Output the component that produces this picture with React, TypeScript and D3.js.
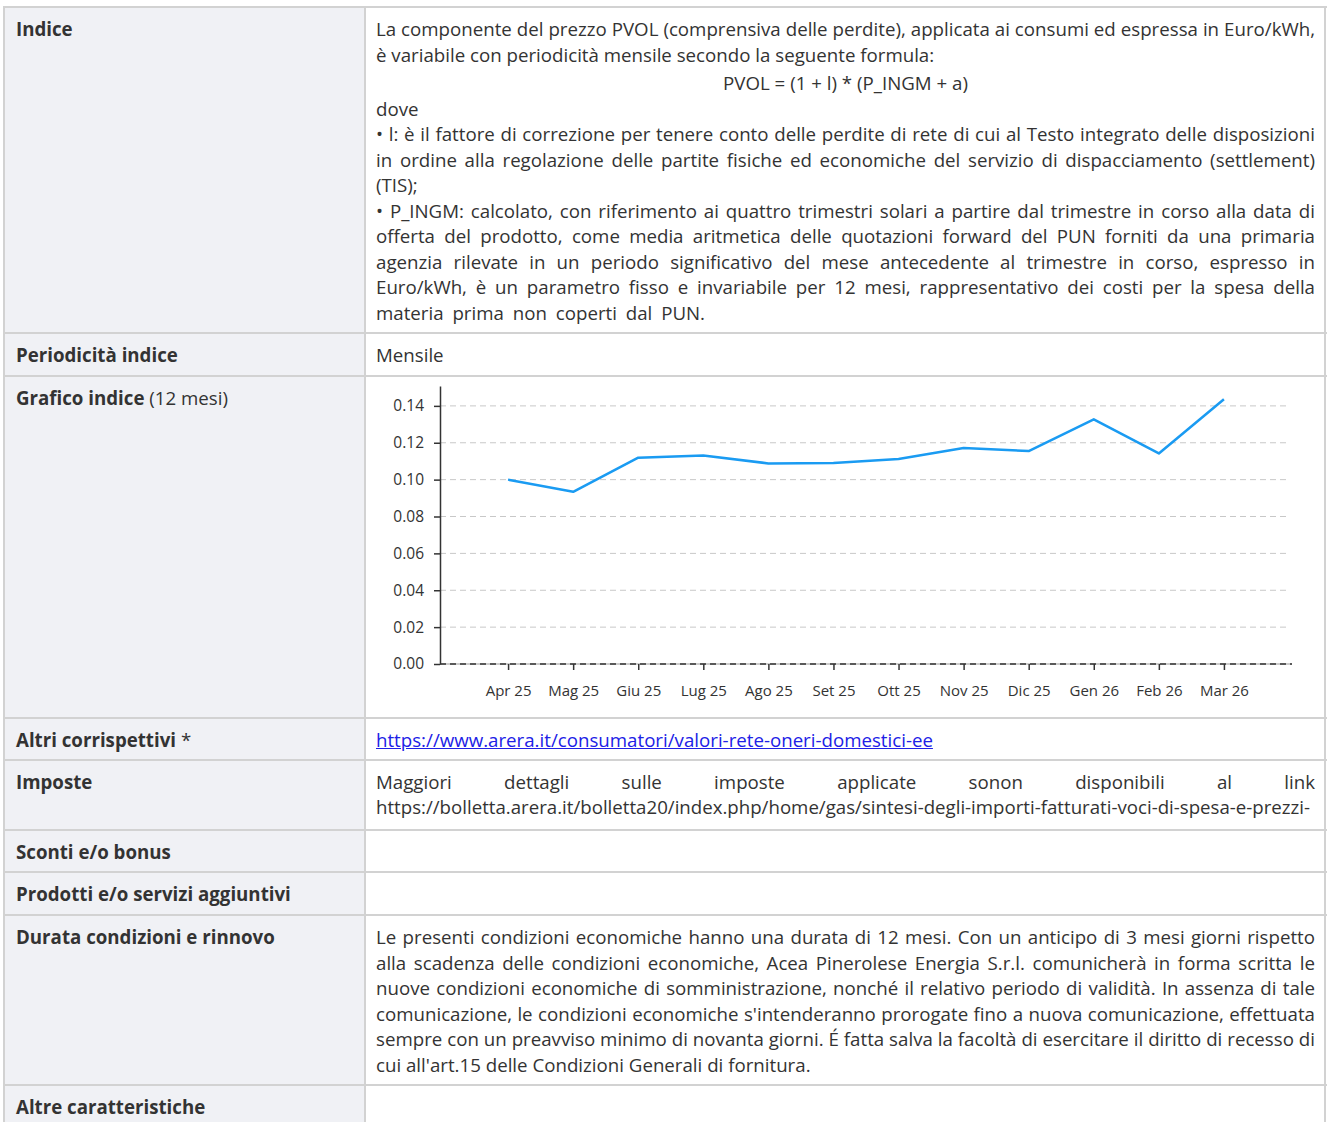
import { useEffect, useRef } from "react"
import * as d3 from "d3"

// monthly PVOL index values (Euro/kWh)
const months = [
  "Apr 25", "Mag 25", "Giu 25", "Lug 25", "Ago 25", "Set 25",
  "Ott 25", "Nov 25", "Dic 25", "Gen 26", "Feb 26", "Mar 26",
]
const pvolValues = [
  0.1, 0.0934, 0.1119, 0.1131, 0.1088, 0.109,
  0.1112, 0.1171, 0.1155, 0.1327, 0.1142, 0.1436,
]
const yTicks = [0, 0.02, 0.04, 0.06, 0.08, 0.1, 0.12, 0.14]

const FONT = '"Open Sans", "Noto Sans", sans-serif'
const TEXT = "#333"
const BORDER = "#d2d2d2"
const FONT_SIZE = 18.7

type Line = { text: string; align: "left" | "center" | "justify"; spacing?: number }

const indiceLines: Line[] = [
  { text: "La componente del prezzo PVOL (comprensiva delle perdite), applicata ai consumi ed espressa in Euro/kWh,", align: "justify" },
  { text: "è variabile con periodicità mensile secondo la seguente formula:", align: "left" },
  { text: "PVOL = (1 + l) * (P_INGM + a)", align: "center" },
  { text: "dove", align: "left" },
  { text: "• l: è il fattore di correzione per tenere conto delle perdite di rete di cui al Testo integrato delle disposizioni", align: "justify" },
  { text: "in ordine alla regolazione delle partite fisiche ed economiche del servizio di dispacciamento (settlement)", align: "justify" },
  { text: "(TIS);", align: "left" },
  { text: "• P_INGM: calcolato, con riferimento ai quattro trimestri solari a partire dal trimestre in corso alla data di", align: "justify" },
  { text: "offerta del prodotto, come media aritmetica delle quotazioni forward del PUN forniti da una primaria", align: "justify" },
  { text: "agenzia rilevate in un periodo significativo del mese antecedente al trimestre in corso, espresso in", align: "justify" },
  { text: "Euro/kWh, è un parametro fisso e invariabile per 12 mesi, rappresentativo dei costi per la spesa della", align: "justify" },
  { text: "materia prima non coperti dal PUN.", align: "left", spacing: 4 },
]

const durataLines: Line[] = [
  { text: "Le presenti condizioni economiche hanno una durata di 12 mesi. Con un anticipo di 3 mesi giorni rispetto", align: "justify" },
  { text: "alla scadenza delle condizioni economiche, Acea Pinerolese Energia S.r.l. comunicherà in forma scritta le", align: "justify" },
  { text: "nuove condizioni economiche di somministrazione, nonché il relativo periodo di validità. In assenza di tale", align: "justify" },
  { text: "comunicazione, le condizioni economiche s'intenderanno prorogate fino a nuova comunicazione, effettuata", align: "justify" },
  { text: "sempre con un preavviso minimo di novanta giorni. É fatta salva la facoltà di esercitare il diritto di recesso di", align: "justify" },
  { text: "cui all'art.15 delle Condizioni Generali di fornitura.", align: "left" },
]

const rowTops = [7, 333, 376, 718, 760, 830, 872, 915, 1085]
const pageBottom = 1140
const colLeft = 4
const colMid = 365
const colRight = 1325

function TextLines({ lines }: { lines: Line[] }) {
  return (
    <>
      {lines.map((l, i) => (
        <div
          key={i}
          style={{
            height: l.align === "center" ? 28.5 : 25.5,
            lineHeight: l.align === "center" ? "31px" : "25.5px",
            whiteSpace: "nowrap",
            textAlign: l.align,
            textAlignLast: l.align === "justify" ? "justify" : undefined,
            wordSpacing: l.spacing,
          }}
        >
          {l.text}
        </div>
      ))}
    </>
  )
}

function PvolChart() {
  const svgRef = useRef<SVGSVGElement | null>(null)

  useEffect(() => {
    if (!svgRef.current) return
    const svg = d3.select(svgRef.current)
    svg.selectAll("*").remove()

    const axisX = 74
    const axisEnd = 926
    const gridEnd = 922
    const top = 10
    const bottom = 288

    const x = d3.scalePoint<string>().domain(months).range([77, 923]).padding(1)
    const y = d3
      .scaleLinear()
      .domain([0, (d3.max(pvolValues) ?? 0) * 1.05])
      .range([bottom, top])

    // x axis line
    svg
      .append("line")
      .attr("x1", axisX)
      .attr("x2", axisEnd)
      .attr("y1", bottom)
      .attr("y2", bottom)
      .attr("stroke", "#bbb")
      .attr("stroke-width", 1.5)

    svg
      .append("g")
      .selectAll("line")
      .data(yTicks)
      .join("line")
      .attr("x1", axisX)
      .attr("x2", (d) => (d === 0 ? axisEnd : gridEnd))
      .attr("y1", (d) => y(d))
      .attr("y2", (d) => y(d))
      .attr("stroke", (d) => (d === 0 ? "#333" : "#c8c8c8"))
      .attr("stroke-width", (d) => (d === 0 ? 1.5 : 1))
      .attr("stroke-dasharray", "6 4")

    svg
      .append("g")
      .attr("transform", `translate(0, ${bottom})`)
      .call(d3.axisBottom(x).tickSize(6).tickSizeOuter(0).tickPadding(15))
      .call((g) => g.select(".domain").remove())
      .call((g) => g.selectAll("line").attr("stroke", "#333").attr("stroke-width", 1.5))
      .call((g) =>
        g.selectAll("text").attr("fill", TEXT).attr("font-size", 15).attr("font-family", FONT),
      )

    svg
      .append("g")
      .attr("transform", `translate(${axisX}, 0)`)
      .call(
        d3
          .axisLeft(y)
          .tickValues(yTicks)
          .tickFormat((d) => (+d).toFixed(2))
          .tickSize(6)
          .tickSizeOuter(0)
          .tickPadding(10),
      )
      .call((g) => g.select(".domain").attr("stroke", "#333").attr("stroke-width", 1.5))
      .call((g) => g.selectAll("line").attr("stroke", "#333").attr("stroke-width", 1.5))
      .call((g) =>
        g.selectAll("text").attr("fill", TEXT).attr("font-size", 15.5).attr("font-family", FONT),
      )

    const line = d3
      .line<number>()
      .x((_, i) => x(months[i]) ?? 0)
      .y((d) => y(d))

    svg
      .append("path")
      .datum(pvolValues)
      .attr("d", line)
      .attr("fill", "none")
      .attr("stroke", "#1a9bf2")
      .attr("stroke-width", 2.5)
      .attr("stroke-linejoin", "round")
  }, [])

  return <svg ref={svgRef} width={960} height={342} style={{ display: "block" }} />
}

export default function App() {
  const labels = [
    <b>Indice</b>,
    <b>Periodicità indice</b>,
    <>
      <b>Grafico indice</b> (12 mesi)
    </>,
    <>
      <b>Altri corrispettivi</b> *
    </>,
    <b>Imposte</b>,
    <b>Sconti e/o bonus</b>,
    <b>Prodotti e/o servizi aggiuntivi</b>,
    <b>Durata condizioni e rinnovo</b>,
    <b>Altre caratteristiche</b>,
  ]

  const contents = [
    <TextLines lines={indiceLines} />,
    <div style={{ lineHeight: "25.5px" }}>Mensile</div>,
    null,
    <div style={{ lineHeight: "25.5px" }}>
      <a href="#" style={{ color: "#2020e6" }}>
        https://www.arera.it/consumatori/valori-rete-oneri-domestici-ee
      </a>
    </div>,
    <>
      <TextLines
        lines={[{ text: "Maggiori dettagli sulle imposte applicate sonon disponibili al link", align: "justify" }]}
      />
      <svg width={940} height={25.5} style={{ display: "block" }}>
        <text
          x={0}
          y={19}
          fontSize={FONT_SIZE}
          fontFamily={FONT}
          fill={TEXT}
          textLength={934}
          lengthAdjust="spacingAndGlyphs"
        >
          https://bolletta.arera.it/bolletta20/index.php/home/gas/sintesi-degli-importi-fatturati-voci-di-spesa-e-prezzi-
        </text>
      </svg>
    </>,
    null,
    null,
    <TextLines lines={durataLines} />,
    null,
  ]

  return (
    <div
      style={{
        position: "absolute",
        left: 0,
        top: 0,
        width: 1329,
        height: 1122,
        overflow: "hidden",
        background: "#fff",
        fontFamily: FONT,
        fontSize: FONT_SIZE,
        color: TEXT,
      }}
    >
      {/* label column background */}
      <div
        style={{
          position: "absolute",
          left: colLeft,
          top: rowTops[0],
          width: colMid - colLeft,
          height: pageBottom - rowTops[0],
          background: "#f0f1f5",
        }}
      />
      {rowTops.map((t, i) => (
        <div key={"h" + i} style={{ position: "absolute", left: colLeft, top: t - 1, width: colRight - colLeft + 2, height: 2, background: BORDER }} />
      ))}
      {[colLeft, colMid, colRight].map((c, i) => (
        <div key={"v" + i} style={{ position: "absolute", left: c - 1, top: rowTops[0] - 1, width: 2, height: pageBottom, background: BORDER }} />
      ))}
      {rowTops.map((t, i) => (
        <div key={"l" + i} style={{ position: "absolute", left: 16, top: t + 9, lineHeight: "25.5px", whiteSpace: "nowrap" }}>
          {labels[i]}
        </div>
      ))}
      {rowTops.map((t, i) =>
        contents[i] ? (
          <div key={"c" + i} style={{ position: "absolute", left: 376, top: t + 9, width: 939 }}>
            {contents[i]}
          </div>
        ) : null,
      )}
      <div style={{ position: "absolute", left: 366, top: rowTops[2] }}>
        <PvolChart />
      </div>
    </div>
  )
}
